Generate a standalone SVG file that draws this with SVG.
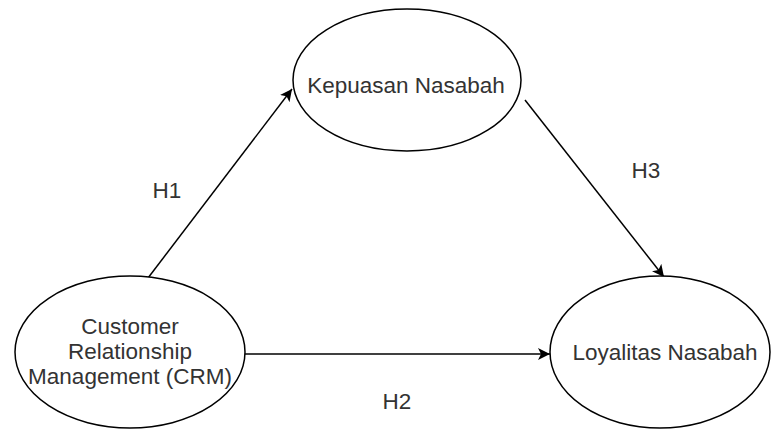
<svg xmlns="http://www.w3.org/2000/svg" width="771" height="430" viewBox="0 0 771 430">
  <style>
    .node ellipse { fill: #ffffff; stroke: #000000; stroke-width: 1.5; }
    .lbl { font-family: "Liberation Sans", Arial, sans-serif; font-size: 22.5px; fill: #333333; text-anchor: middle; }
    .edge { fill: none; stroke: #000000; stroke-width: 1.5; }
  </style>
  <defs>
    <marker id="arrow" markerWidth="14" markerHeight="12" refX="12" refY="6" orient="auto" markerUnits="userSpaceOnUse">
      <path d="M0,0 L12,6 L0,12 L3,6 Z" fill="#000000"/>
    </marker>
  </defs>
  <rect width="771" height="430" fill="#ffffff"/>
  <g id="connectors">
    <line class="edge" x1="148" y1="278" x2="292" y2="89" marker-end="url(#arrow)"/>
    <line class="edge" x1="525" y1="100" x2="664" y2="277" marker-end="url(#arrow)"/>
    <line class="edge" x1="245" y1="354" x2="550" y2="354" marker-end="url(#arrow)"/>
    <text class="lbl" x="167" y="198">H1</text>
    <text class="lbl" x="646" y="178">H3</text>
    <text class="lbl" x="397" y="409">H2</text>
  </g>
  <g id="crm" class="node">
    <ellipse cx="130" cy="352" rx="115" ry="76"/>
    <text class="lbl" x="130" y="334">Customer</text>
    <text class="lbl" x="130" y="359">Relationship</text>
    <text class="lbl" x="130" y="384">Management (CRM)</text>
  </g>
  <g id="kepuasan" class="node">
    <ellipse cx="407" cy="80" rx="114" ry="71"/>
    <text class="lbl" x="406" y="93">Kepuasan Nasabah</text>
  </g>
  <g id="loyalitas" class="node">
    <ellipse cx="660" cy="352" rx="110" ry="76"/>
    <text class="lbl" x="665" y="360">Loyalitas Nasabah</text>
  </g>
</svg>
